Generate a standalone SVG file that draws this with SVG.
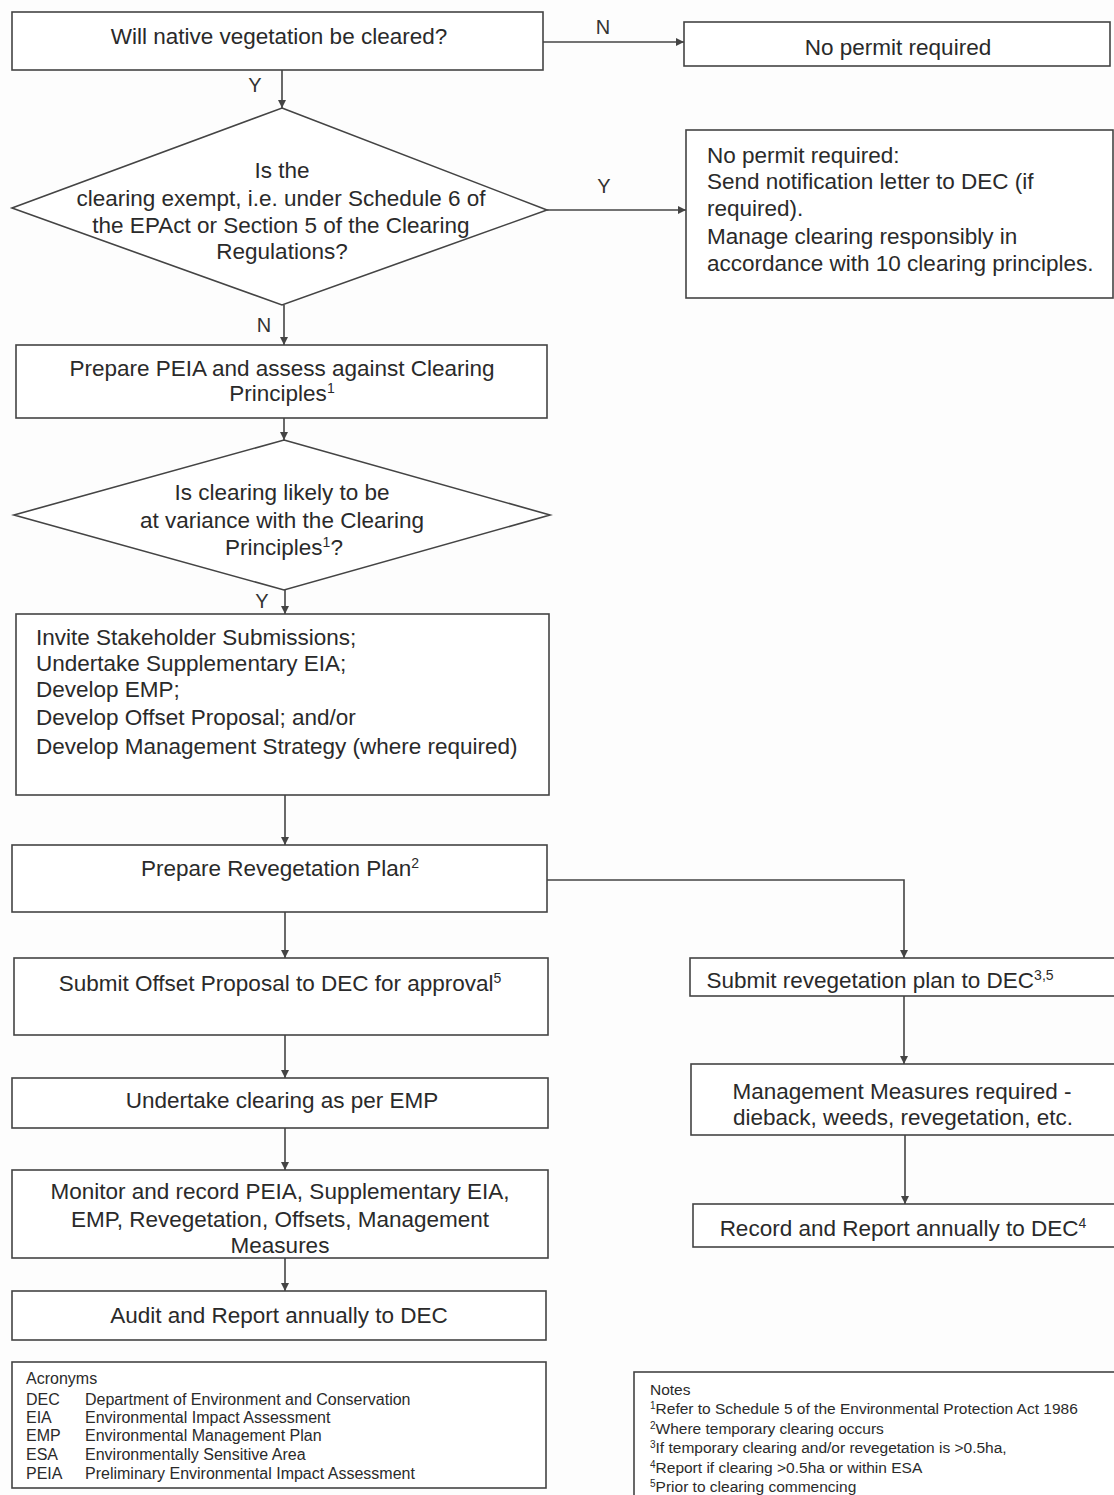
<svg xmlns="http://www.w3.org/2000/svg" width="1114" height="1495" viewBox="0 0 1114 1495">
<defs>
<marker id="ah" viewBox="0 0 10 10" refX="10" refY="5" markerWidth="8" markerHeight="8" markerUnits="userSpaceOnUse" orient="auto">
<path d="M0,0 L10,5 L0,10 z" fill="#444"/>
</marker>
<style>
.box{fill:#fff;stroke:#444;stroke-width:1.6}
.t{font-family:"Liberation Sans",Arial,sans-serif;font-size:22.5px;fill:#2a2a2a}
.c{text-anchor:middle}
.s{font-family:"Liberation Sans",Arial,sans-serif;font-size:15.5px;fill:#2a2a2a}
.a{font-size:16px}
.lbl{font-family:"Liberation Sans",Arial,sans-serif;font-size:20px;fill:#333;text-anchor:middle}
.ln{fill:none;stroke:#444;stroke-width:1.6}
.sup{font-size:14px}
</style>
</defs>
<rect width="1114" height="1495" fill="#fdfdfd"/>

<g id="connectors">
<line class="ln" x1="543" y1="42" x2="684" y2="42" marker-end="url(#ah)"/>
<text class="lbl" x="603" y="34">N</text>
<line class="ln" x1="282" y1="70" x2="282" y2="108" marker-end="url(#ah)"/>
<text class="lbl" x="255" y="92">Y</text>
<line class="ln" x1="547" y1="210" x2="686" y2="210" marker-end="url(#ah)"/>
<text class="lbl" x="604" y="193">Y</text>
<line class="ln" x1="284" y1="305" x2="284" y2="345" marker-end="url(#ah)"/>
<text class="lbl" x="264" y="332">N</text>
<line class="ln" x1="284" y1="418" x2="284" y2="440" marker-end="url(#ah)"/>
<line class="ln" x1="285" y1="590" x2="285" y2="614" marker-end="url(#ah)"/>
<text class="lbl" x="262" y="608">Y</text>
<line class="ln" x1="285" y1="795" x2="285" y2="845" marker-end="url(#ah)"/>
<line class="ln" x1="285" y1="912" x2="285" y2="958" marker-end="url(#ah)"/>
<polyline class="ln" points="547,880 904,880 904,958" marker-end="url(#ah)"/>
<line class="ln" x1="285" y1="1035" x2="285" y2="1078" marker-end="url(#ah)"/>
<line class="ln" x1="285" y1="1128" x2="285" y2="1170" marker-end="url(#ah)"/>
<line class="ln" x1="285" y1="1258" x2="285" y2="1291" marker-end="url(#ah)"/>
<line class="ln" x1="904" y1="996" x2="904" y2="1064" marker-end="url(#ah)"/>
<line class="ln" x1="905" y1="1135" x2="905" y2="1204" marker-end="url(#ah)"/>
</g>

<g id="q-native">
<rect class="box" x="12" y="12" width="531" height="58"/>
<text class="t c" x="279" y="44">Will native vegetation be cleared?</text>
</g>

<g id="no-permit">
<rect class="box" x="684" y="22" width="426" height="44"/>
<text class="t c" x="898" y="55">No permit required</text>
</g>

<g id="q-exempt">
<polygon class="box" points="282,108 547,210 282,305 12,208"/>
<text class="t c" x="282" y="178">Is the</text>
<text class="t c" x="281" y="206">clearing exempt, i.e. under Schedule 6 of</text>
<text class="t c" x="281" y="233">the EPAct or Section 5 of the Clearing</text>
<text class="t c" x="282" y="259">Regulations?</text>
</g>

<g id="no-permit-notify">
<rect class="box" x="686" y="130" width="427" height="168"/>
<text class="t" x="707" y="163">No permit required:</text>
<text class="t" x="707" y="189">Send notification letter to DEC (if</text>
<text class="t" x="707" y="216">required).</text>
<text class="t" x="707" y="244">Manage clearing responsibly in</text>
<text class="t" x="707" y="271">accordance with 10 clearing principles.</text>
</g>

<g id="prepare-peia">
<rect class="box" x="16" y="345" width="531" height="73"/>
<text class="t c" x="282" y="376">Prepare PEIA and assess against Clearing</text>
<text class="t c" x="282" y="401">Principles<tspan class="sup" dy="-8">1</tspan></text>
</g>

<g id="q-variance">
<polygon class="box" points="284,440 550,515 284,590 14,515"/>
<text class="t c" x="282" y="500">Is clearing likely to be</text>
<text class="t c" x="282" y="528">at variance with the Clearing</text>
<text class="t c" x="284" y="555">Principles<tspan class="sup" dy="-8">1</tspan><tspan dy="8">?</tspan></text>
</g>

<g id="invite">
<rect class="box" x="16" y="614" width="533" height="181"/>
<text class="t" x="36" y="645">Invite Stakeholder Submissions;</text>
<text class="t" x="36" y="671">Undertake Supplementary EIA;</text>
<text class="t" x="36" y="697">Develop EMP;</text>
<text class="t" x="36" y="725">Develop Offset Proposal; and/or</text>
<text class="t" x="36" y="754">Develop Management Strategy (where required)</text>
</g>

<g id="reveg-plan">
<rect class="box" x="12" y="845" width="535" height="67"/>
<text class="t c" x="280" y="876">Prepare Revegetation Plan<tspan class="sup" dy="-8">2</tspan></text>
</g>

<g id="submit-offset">
<rect class="box" x="14" y="958" width="534" height="77"/>
<text class="t c" x="280" y="991">Submit Offset Proposal to DEC for approval<tspan class="sup" dy="-8">5</tspan></text>
</g>

<g id="undertake">
<rect class="box" x="12" y="1078" width="536" height="50"/>
<text class="t c" x="282" y="1108">Undertake clearing as per EMP</text>
</g>

<g id="monitor">
<rect class="box" x="12" y="1170" width="536" height="88"/>
<text class="t c" x="280" y="1199">Monitor and record PEIA, Supplementary EIA,</text>
<text class="t c" x="280" y="1227">EMP, Revegetation, Offsets, Management</text>
<text class="t c" x="280" y="1253">Measures</text>
</g>

<g id="audit">
<rect class="box" x="12" y="1291" width="534" height="49"/>
<text class="t c" x="279" y="1323">Audit and Report annually to DEC</text>
</g>

<g id="submit-reveg">
<rect class="box" x="690" y="958" width="426" height="38"/>
<text class="t c" x="880" y="988">Submit revegetation plan to DEC<tspan class="sup" dy="-8">3,5</tspan></text>
</g>

<g id="mgmt-measures">
<rect class="box" x="691" y="1064" width="424" height="71"/>
<text class="t c" x="902" y="1099">Management Measures required -</text>
<text class="t c" x="903" y="1125">dieback, weeds, revegetation, etc.</text>
</g>

<g id="record-report">
<rect class="box" x="693" y="1204" width="422" height="43"/>
<text class="t c" x="903" y="1236">Record and Report annually to DEC<tspan class="sup" dy="-8">4</tspan></text>
</g>

<g id="acronyms">
<rect class="box" x="12" y="1362" width="534" height="126"/>
<text class="s a" x="26" y="1384">Acronyms</text>
<text class="s a" x="26" y="1405">DEC</text><text class="s a" x="85" y="1405">Department of Environment and Conservation</text>
<text class="s a" x="26" y="1423">EIA</text><text class="s a" x="85" y="1423">Environmental Impact Assessment</text>
<text class="s a" x="26" y="1441">EMP</text><text class="s a" x="85" y="1441">Environmental Management Plan</text>
<text class="s a" x="26" y="1460">ESA</text><text class="s a" x="85" y="1460">Environmentally Sensitive Area</text>
<text class="s a" x="26" y="1479">PEIA</text><text class="s a" x="85" y="1479">Preliminary Environmental Impact Assessment</text>
</g>

<g id="notes">
<rect class="box" x="634" y="1372" width="490" height="140"/>
<text class="s" x="650" y="1395">Notes</text>
<text class="s" x="650" y="1414"><tspan font-size="10" dy="-5">1</tspan><tspan dy="5">Refer to Schedule 5 of the Environmental Protection Act 1986</tspan></text>
<text class="s" x="650" y="1434"><tspan font-size="10" dy="-5">2</tspan><tspan dy="5">Where temporary clearing occurs</tspan></text>
<text class="s" x="650" y="1453"><tspan font-size="10" dy="-5">3</tspan><tspan dy="5">If temporary clearing and/or revegetation is &gt;0.5ha,</tspan></text>
<text class="s" x="650" y="1473"><tspan font-size="10" dy="-5">4</tspan><tspan dy="5">Report if clearing &gt;0.5ha or within ESA</tspan></text>
<text class="s" x="650" y="1492"><tspan font-size="10" dy="-5">5</tspan><tspan dy="5">Prior to clearing commencing</tspan></text>
</g>
</svg>
